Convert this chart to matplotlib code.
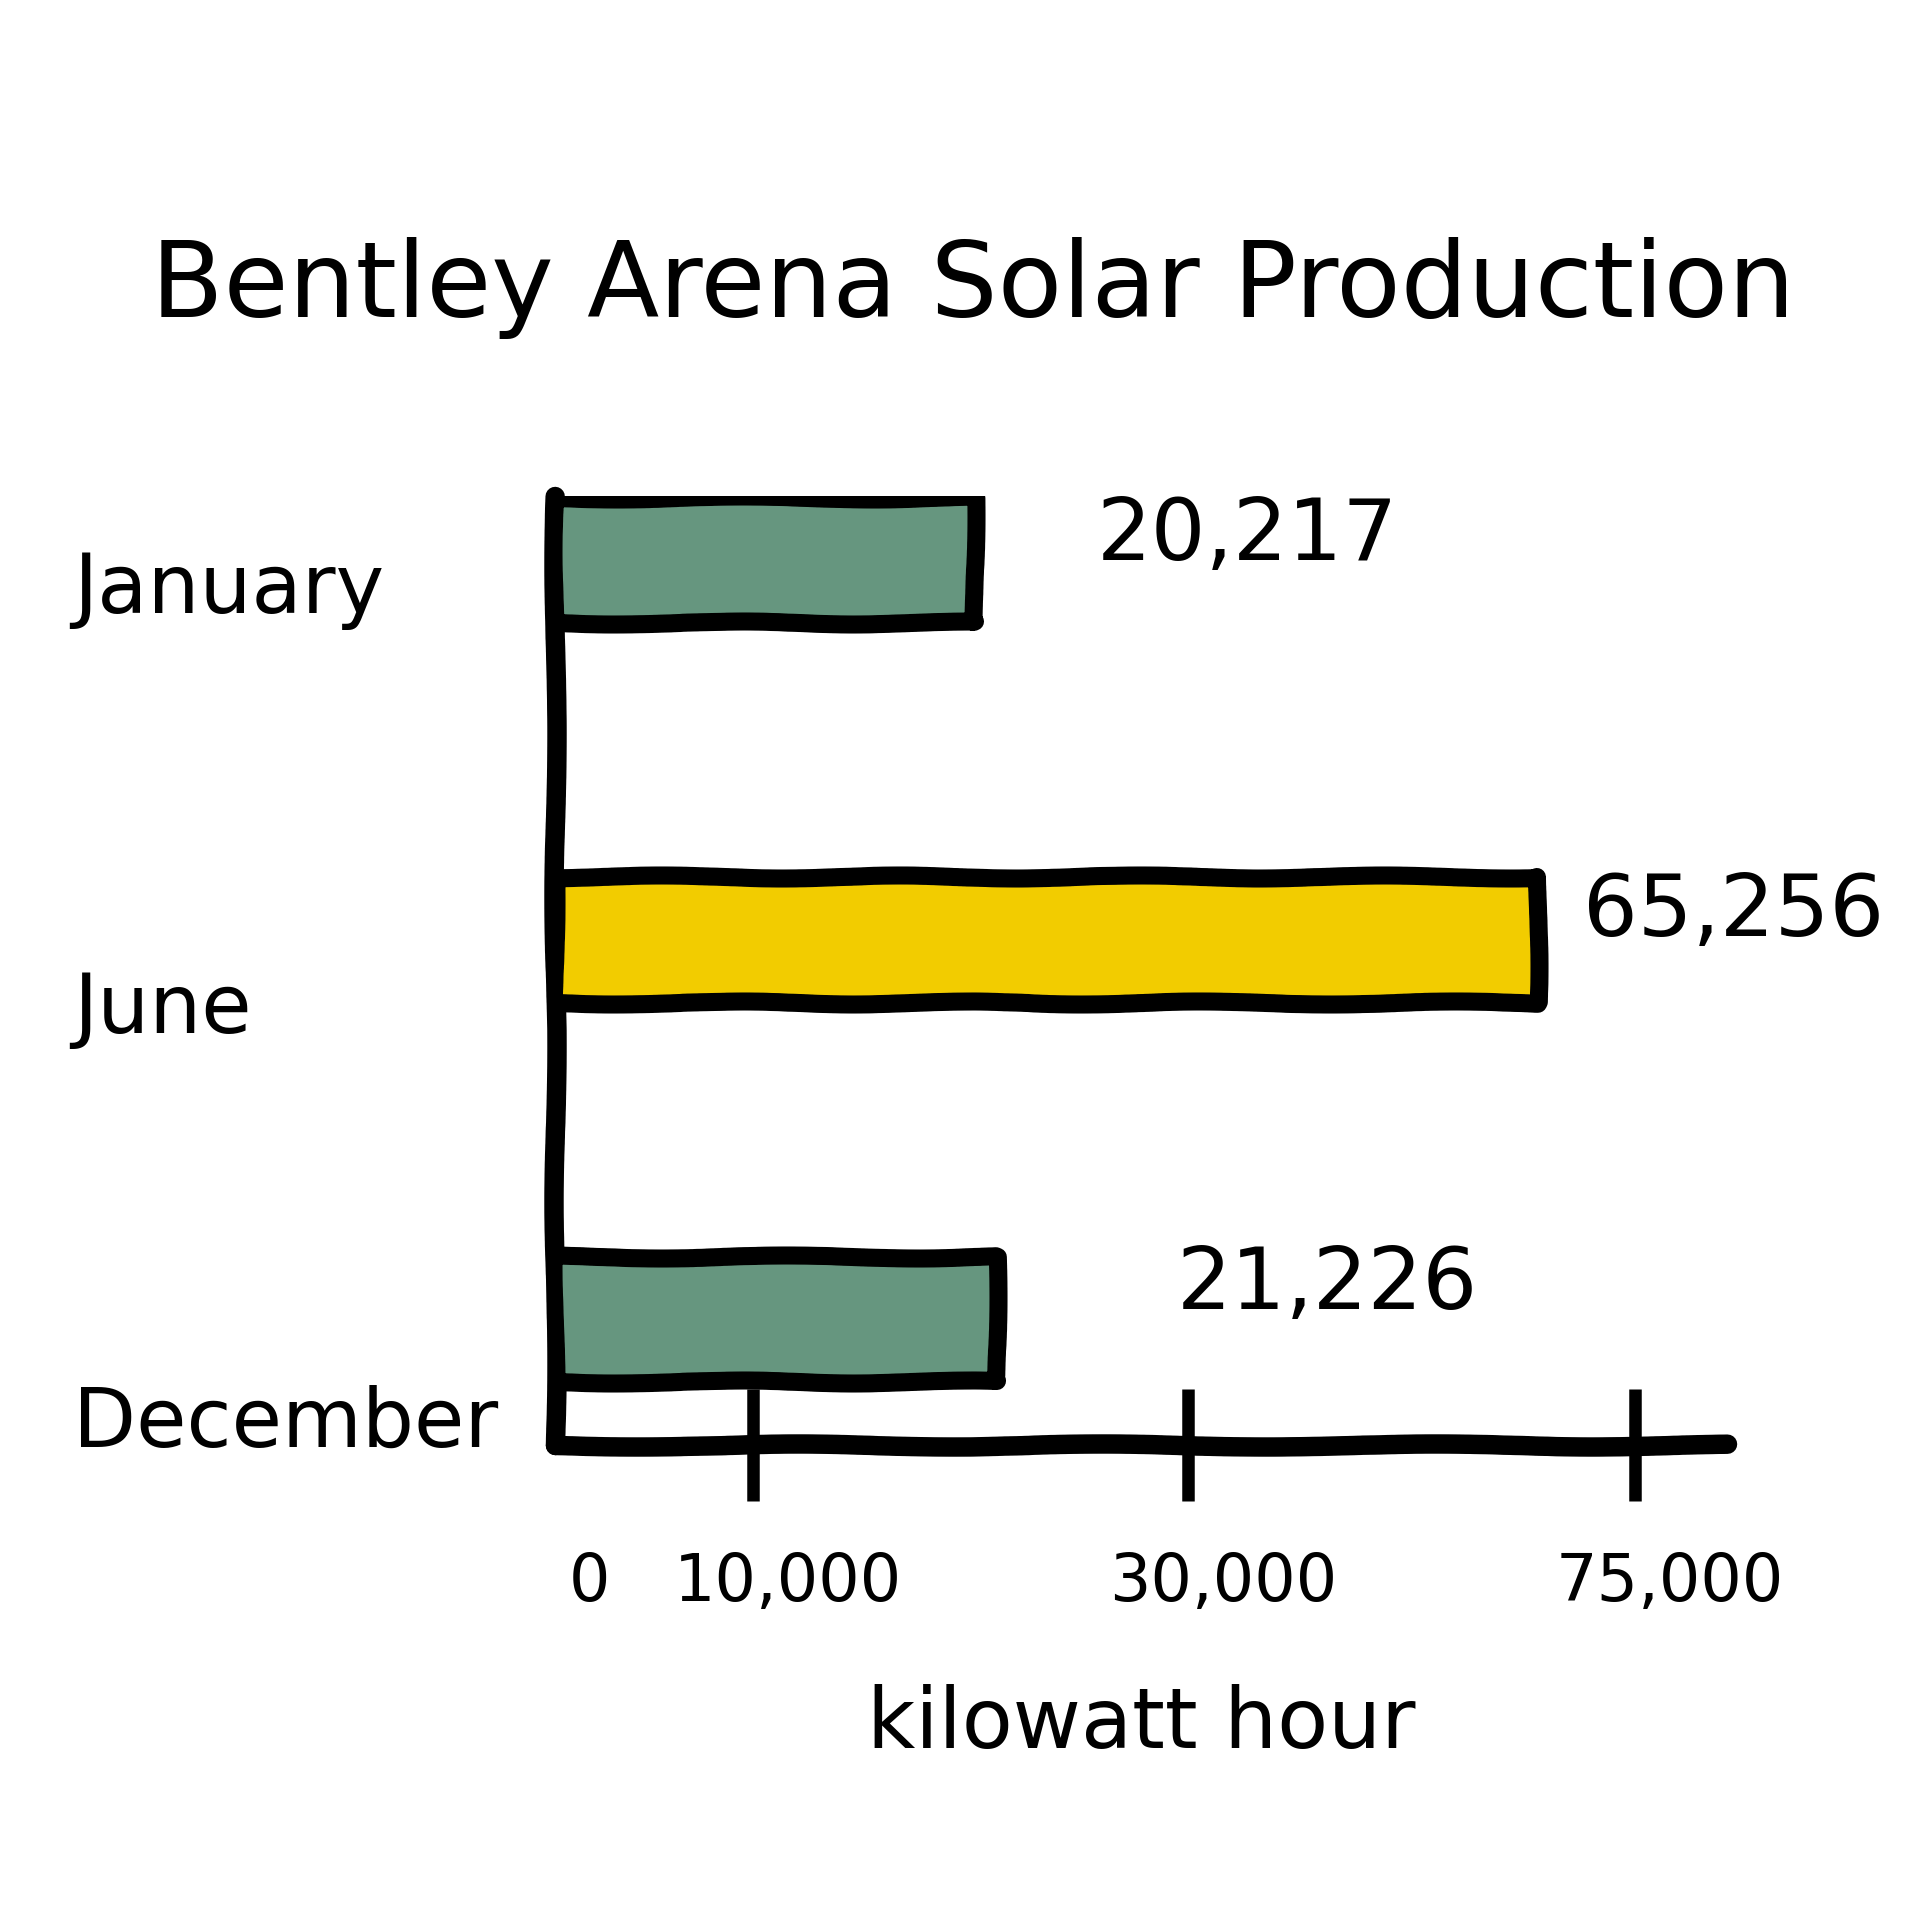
import numpy as np
import matplotlib
matplotlib.use("Agg")
import matplotlib.pyplot as plt
import matplotlib.transforms as mtransforms

# ---------------- data ----------------
months = ["January", "June", "December"]
kwh = [20217, 65256, 21226]
value_labels = ["20,217", "65,256", "21,226"]
tick_values = [0, 10000, 30000, 75000]
tick_labels = ["0", "10,000", "30,000", "75,000"]
title = "Bentley Arena Solar Production"
xlabel = "kilowatt hour"

# ---------------- style ----------------
bar_colors = ["#66967F", "#F2CC00", "#66967F"]
plt.rcParams["font.family"] = ["DejaVu Sans"]

# hand-drawn axis: the ticks are not evenly spaced (piecewise scale, px offsets)
knot_v = np.array([0, 10000, 30000, 75000, 100000], dtype=float)
knot_p = np.array([0, 198, 633, 1080, 1328], dtype=float)

def fwd(v):
    return np.interp(v, knot_v, knot_p)

def inv(p):
    return np.interp(p, knot_p, knot_v)

fig = plt.figure(figsize=(19.2, 19.2), dpi=100)
fig.patch.set_facecolor("white")
ax = fig.add_axes([0.289, 0.2474, 0.6104, 0.4943])
ax.set_xscale("function", functions=(fwd, inv))
ax.set_xlim(0, 84262)
ax.set_ylim(-0.33, 2.17)

ypos = [2, 1, 0]
bars = ax.barh(ypos, kwh, height=0.33, color=bar_colors, edgecolor="black",
               linewidth=13, joinstyle="round", zorder=3)
for b in bars:
    b.set_sketch_params(scale=1.5, length=300, randomness=3)

# spines
for s in ["top", "right"]:
    ax.spines[s].set_visible(False)
for s in ["left", "bottom"]:
    ax.spines[s].set_linewidth(14)
    ax.spines[s].set_capstyle("round")
    ax.spines[s].set_sketch_params(scale=1.5, length=400, randomness=3)

# x ticks
ax.set_xticks(tick_values)
ax.set_xticklabels(tick_labels, fontsize=47)
ax.tick_params(axis="x", direction="inout", length=80, width=9, pad=36)
ax.xaxis.get_major_ticks()[0].tick1line.set_visible(False)
shift = mtransforms.ScaledTranslation(35 / 100, 0, fig.dpi_scale_trans)
for lab in ax.get_xticklabels():
    lab.set_transform(lab.get_transform() + shift)
ax.set_yticks([])
ax.set_xlabel(xlabel, fontsize=60, labelpad=50)

# category labels at left (figure x, data y)
blend = mtransforms.blended_transform_factory(fig.transFigure, ax.transData)
cat_dy = [-30, -70, -105]  # px shift of the hand-written labels
for y, m, dy in zip(ypos, months, cat_dy):
    t = mtransforms.offset_copy(blend, fig=fig, x=0, y=dy * 0.72, units="points")
    ax.text(0.038, y, m, transform=t, fontsize=59, ha="left", va="center")

# value labels at the end of each bar
val_dx = [122, 45, 180]
val_dy = [24, 28, 34]
for y, v, lab, dx, dy in zip(ypos, kwh, value_labels, val_dx, val_dy):
    t = mtransforms.offset_copy(ax.transData, fig=fig, x=dx * 0.72, y=dy * 0.72, units="points")
    ax.text(v, y, lab, transform=t, fontsize=62, ha="left", va="center")

fig.text(0.507, 0.85, title, fontsize=76, ha="center", va="center")

fig.savefig("out.png", dpi=100, facecolor="white")
